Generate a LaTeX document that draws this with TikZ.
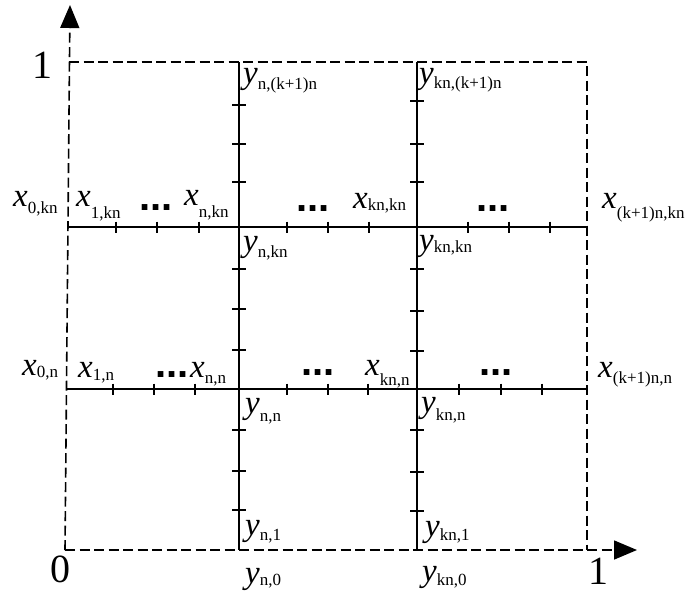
\documentclass[tikz,border=0pt]{standalone}
\usepackage{fontspec}
\setmainfont{Liberation Serif}
\newfontfamily\dotfont{Liberation Sans}
\usetikzlibrary{arrows.meta}
\newcommand{\vlab}[3]{{\fontsize{33}{33}\selectfont\itshape #1}\raisebox{-#3pt}{\fontsize{17}{17}\selectfont #2}}
\tikzset{
  axisline/.style={line width=1.6pt, dash pattern=on 10pt off 4.5pt},
  gridline/.style={line width=1.5pt},
  tickmark/.style={line width=1.3pt},
  lab/.style={anchor=base west, inner sep=0pt},
  bignum/.style={inner sep=0pt, font=\fontsize{40}{40}\selectfont},
  dotsnode/.style={inner sep=0pt, font=\fontsize{40}{40}\selectfont\dotfont\bfseries},
  axtip/.style={-{Triangle[length=23pt,width=19pt]}}
}
\begin{document}
\begin{tikzpicture}[x=1pt,y=-1pt]
\useasboundingbox (0,0) rectangle (691,592);
% corners and axis ends
\coordinate (O) at (65,550);
\coordinate (TL) at (69,62);
\coordinate (TR) at (587,62);
\coordinate (BR) at (587,550);
\coordinate (YT) at (70,5);
\coordinate (XT) at (637,550);
% grid line ends
\coordinate (v1t) at (239,62); \coordinate (v1b) at (239,550);
\coordinate (v2t) at (417,62); \coordinate (v2b) at (417,550);
\coordinate (h1l) at (68,227); \coordinate (h1r) at (587,227);
\coordinate (h2l) at (67,389); \coordinate (h2r) at (587,389);
% axes and dashed box
\draw[axisline, axtip] (O) -- (YT);
\draw[axisline, axtip] (O) -- (XT);
\draw[axisline] (TL) -- (TR) -- (BR);
% solid grid lines
\draw[gridline] (v1t) -- (v1b);
\draw[gridline] (v2t) -- (v2b);
\draw[gridline] (h1l) -- (h1r);
\draw[gridline] (h2l) -- (h2r);
% ticks on horizontal lines
\foreach \x in {116,157,199,287,328,369,468,509,550}
  \draw[tickmark] (\x,221.5) -- (\x,232.5);
\foreach \x in {113,154,195,287,328,368,459,501,542}
  \draw[tickmark] (\x,383.5) -- (\x,394.5);
% ticks on vertical lines
\foreach \y in {105,144,182,269,309,350,430,471,510}
  \draw[tickmark] (232,\y) -- (246,\y);
\foreach \y in {101,144,182,269,311,351,430,472,511}
  \draw[tickmark] (410,\y) -- (424,\y);
% big numbers
\node[bignum] (one1) at (42,65) {1};
\node[bignum] (zero) at (60,569) {0};
\node[bignum] (one2) at (598,571) {1};
% dots
\node[dotsnode] (d1) at (156,208) {...};
\node[dotsnode] (d2) at (313,209) {...};
\node[dotsnode] (d3) at (493,209) {...};
\node[dotsnode] (d4) at (172,375) {...};
\node[dotsnode] (d5) at (318,373) {...};
\node[dotsnode] (d6) at (496,373) {...};
% top labels
\node[lab] (ynk1) at (243,83) {\vlab{y}{n,(k+1)n}{6}};
\node[lab] (ykk1) at (419,83) {\vlab{y}{kn,(k+1)n}{5}};
% row 227 above
\node[lab] (x0kn) at (13,206) {\vlab{x}{0,kn}{7}};
\node[lab] (x1kn) at (76,206) {\vlab{x}{1,kn}{12}};
\node[lab] (xnkn) at (184,205) {\vlab{x}{n,kn}{12}};
\node[lab] (xkkn) at (353,208) {\vlab{x}{kn,kn}{2}};
\node[lab] (xk1kn) at (602,208) {\vlab{x}{(k+1)n,kn}{10}};
% row 227 below
\node[lab] (ynkn) at (243,251) {\vlab{y}{n,kn}{6}};
\node[lab] (ykkn) at (419,250) {\vlab{y}{kn,kn}{2}};
% row 389 above
\node[lab] (x0n) at (22,375) {\vlab{x}{0,n}{2}};
\node[lab] (x1n) at (78,377) {\vlab{x}{1,n}{3}};
\node[lab] (xnn) at (190,377) {\vlab{x}{n,n}{6}};
\node[lab] (xkn) at (365,375) {\vlab{x}{kn,n}{10}};
\node[lab] (xk1n) at (598,377) {\vlab{x}{(k+1)n,n}{6}};
% row 389 below
\node[lab] (ynn) at (245,413) {\vlab{y}{n,n}{8}};
\node[lab] (ykn) at (421,412) {\vlab{y}{kn,n}{8}};
% bottom labels
\node[lab] (yn1) at (245,535) {\vlab{y}{n,1}{5}};
\node[lab] (yk1) at (425,536) {\vlab{y}{kn,1}{4}};
\node[lab] (yn0) at (245,583) {\vlab{y}{n,0}{2}};
\node[lab] (yk0) at (422,581) {\vlab{y}{kn,0}{4}};
\end{tikzpicture}
\end{document}
